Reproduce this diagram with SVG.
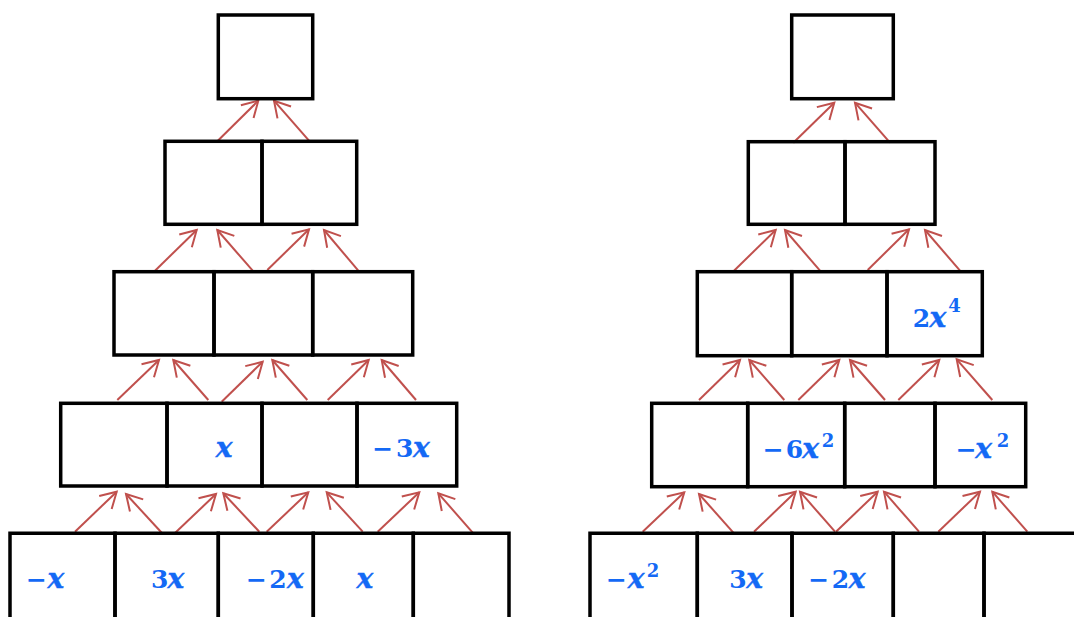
<svg xmlns="http://www.w3.org/2000/svg" width="1074" height="617" viewBox="0 0 1074 617">
<defs>
<style>
.c{fill:none;stroke:#000;stroke-width:3.5}
.a{stroke:#c0504d;stroke-width:2;fill:none;marker-end:url(#ah)}
.t{font-family:"DejaVu Serif",serif;font-weight:bold;font-size:25px;fill:#1469f5}
.v{font-style:italic;font-size:28px;stroke:#1469f5;stroke-width:0.4}
.s{font-size:18px}
</style>
<marker id="ah" markerUnits="userSpaceOnUse" markerWidth="24" markerHeight="24" viewBox="-20 -12 24 24" refX="0" refY="0" orient="auto">
<path d="M-15.6,-9 L0,0 L-15.6,9" fill="none" stroke="#c0504d" stroke-width="2"/>
</marker>
</defs>
<rect width="1074" height="617" fill="#fff"/>

<g id="connectors">
<line class="a" x1="75" y1="531.7" x2="116.7" y2="491.7"/>
<line class="a" x1="161.7" y1="532.7" x2="126" y2="494"/>
<line class="a" x1="175" y1="533" x2="216" y2="494"/>
<line class="a" x1="259.3" y1="531.7" x2="223.3" y2="493.3"/>
<line class="a" x1="266.7" y1="531.7" x2="308.3" y2="492.3"/>
<line class="a" x1="362.7" y1="531.7" x2="326.7" y2="492.3"/>
<line class="a" x1="377.7" y1="531.7" x2="419.3" y2="492.3"/>
<line class="a" x1="472.7" y1="532.7" x2="438.3" y2="493.3"/>
<line class="a" x1="117.3" y1="400" x2="159" y2="360"/>
<line class="a" x1="208.3" y1="400" x2="173.3" y2="360"/>
<line class="a" x1="221.7" y1="401.7" x2="262.7" y2="361.7"/>
<line class="a" x1="307.3" y1="400" x2="272.3" y2="360"/>
<line class="a" x1="327.7" y1="400" x2="368.7" y2="360"/>
<line class="a" x1="416" y1="400" x2="381.7" y2="360"/>
<line class="a" x1="155" y1="270.7" x2="196.7" y2="230"/>
<line class="a" x1="252.7" y1="270.7" x2="217.3" y2="230"/>
<line class="a" x1="267.3" y1="270" x2="309" y2="229.3"/>
<line class="a" x1="358.3" y1="270.7" x2="324" y2="230"/>
<line class="a" x1="217.3" y1="141.3" x2="258.3" y2="100.7"/>
<line class="a" x1="309" y1="140.7" x2="274" y2="100.7"/>

<line class="a" x1="642.7" y1="531.7" x2="684.3" y2="492.3"/>
<line class="a" x1="734" y1="533.3" x2="699" y2="494"/>
<line class="a" x1="754" y1="531.7" x2="795.7" y2="491.7"/>
<line class="a" x1="835" y1="531.7" x2="800" y2="491.7"/>
<line class="a" x1="836" y1="531.7" x2="877.7" y2="491.7"/>
<line class="a" x1="919" y1="531.7" x2="884" y2="491.7"/>
<line class="a" x1="938.3" y1="531.7" x2="980" y2="491.7"/>
<line class="a" x1="1027.3" y1="531.7" x2="992.3" y2="491.7"/>
<line class="a" x1="699" y1="400" x2="740" y2="360"/>
<line class="a" x1="784.3" y1="400" x2="749.3" y2="360"/>
<line class="a" x1="798.3" y1="400" x2="839.3" y2="360"/>
<line class="a" x1="885" y1="400" x2="850" y2="360"/>
<line class="a" x1="898.3" y1="400" x2="939.3" y2="360"/>
<line class="a" x1="992.3" y1="400" x2="956.7" y2="359.3"/>
<line class="a" x1="734" y1="270.7" x2="775.7" y2="230"/>
<line class="a" x1="820" y1="270.7" x2="785" y2="230"/>
<line class="a" x1="867.7" y1="270" x2="909" y2="229.3"/>
<line class="a" x1="960" y1="270.7" x2="925" y2="230"/>
<line class="a" x1="793.3" y1="142.7" x2="834.3" y2="102.7"/>
<line class="a" x1="890" y1="142.7" x2="855" y2="102.7"/>
</g>

<!-- Left pyramid -->
<g id="L1-1"><rect class="c" x="218.3" y="15" width="94.4" height="83.7"/></g>
<g id="L2-1"><rect class="c" x="165" y="141.3" width="97" height="83"/></g>
<g id="L2-2"><rect class="c" x="262" y="141.3" width="94.7" height="83"/></g>
<g id="L3-1"><rect class="c" x="114" y="271.7" width="100" height="83.3"/></g>
<g id="L3-2"><rect class="c" x="214" y="271.7" width="98.7" height="83.3"/></g>
<g id="L3-3"><rect class="c" x="312.7" y="271.7" width="100" height="83.3"/></g>
<g id="L4-1"><rect class="c" x="60.7" y="403.3" width="106.3" height="82.7"/></g>
<g id="L4-2"><rect class="c" x="167" y="403.3" width="95" height="82.7"/>
<text class="t" y="457"><tspan class="v" x="215.7">x</tspan></text></g>
<g id="L4-3"><rect class="c" x="262" y="403.3" width="95" height="82.7"/></g>
<g id="L4-4"><rect class="c" x="357" y="403.3" width="99.7" height="82.7"/>
<text class="t" y="457"><tspan x="372.3">−</tspan><tspan x="396">3</tspan><tspan class="v" x="413">x</tspan></text></g>
<g id="L5-1"><path class="c" d="M10,620 V533.3 H115 V620"/>
<text class="t" y="588"><tspan x="26">−</tspan><tspan class="v" x="47.5">x</tspan></text></g>
<g id="L5-2"><path class="c" d="M115,620 V533.3 H218.3 V620"/>
<text class="t" y="588"><tspan x="151">3</tspan><tspan class="v" x="167.5">x</tspan></text></g>
<g id="L5-3"><path class="c" d="M218.3,620 V533.3 H313.3 V620"/>
<text class="t" y="588"><tspan x="246">−</tspan><tspan x="269.3">2</tspan><tspan class="v" x="287">x</tspan></text></g>
<g id="L5-4"><path class="c" d="M313.3,620 V533.3 H413.3 V620"/>
<text class="t" y="588"><tspan class="v" x="356.5">x</tspan></text></g>
<g id="L5-5"><path class="c" d="M413.3,620 V533.3 H509 V620"/></g>

<!-- Right pyramid -->
<g id="R1-1"><rect class="c" x="791.7" y="15" width="101.6" height="83.7"/></g>
<g id="R2-1"><rect class="c" x="748.3" y="141.7" width="96.7" height="82.6"/></g>
<g id="R2-2"><rect class="c" x="845" y="141.7" width="90" height="82.6"/></g>
<g id="R3-1"><rect class="c" x="697.3" y="271.7" width="94.4" height="84"/></g>
<g id="R3-2"><rect class="c" x="791.7" y="271.7" width="95.3" height="84"/></g>
<g id="R3-3"><rect class="c" x="887" y="271.7" width="95.3" height="84"/>
<text class="t" y="326.5"><tspan x="912.7">2</tspan><tspan class="v" x="929.5">x</tspan><tspan class="s" x="948.3" y="311.7">4</tspan></text></g>
<g id="R4-1"><rect class="c" x="651.7" y="403.3" width="96" height="83.4"/></g>
<g id="R4-2"><rect class="c" x="747.7" y="403.3" width="97" height="83.4"/>
<text class="t" y="458"><tspan x="762.7">−</tspan><tspan x="785.7">6</tspan><tspan class="v" x="802.2">x</tspan><tspan class="s" x="821.7" y="447">2</tspan></text></g>
<g id="R4-3"><rect class="c" x="844.7" y="403.3" width="90.3" height="83.4"/></g>
<g id="R4-4"><rect class="c" x="935" y="403.3" width="90.7" height="83.4"/>
<text class="t" y="458"><tspan x="955.7">−</tspan><tspan class="v" x="975.2">x</tspan><tspan class="s" x="996.7" y="447">2</tspan></text></g>
<g id="R5-1"><path class="c" d="M590,620 V533.3 H697.3 V620"/>
<text class="t" y="588"><tspan x="606">−</tspan><tspan class="v" x="627.8">x</tspan><tspan class="s" x="646.7" y="577">2</tspan></text></g>
<g id="R5-2"><path class="c" d="M697.3,620 V533.3 H792 V620"/>
<text class="t" y="588"><tspan x="729.3">3</tspan><tspan class="v" x="746.2">x</tspan></text></g>
<g id="R5-3"><path class="c" d="M792,620 V533.3 H893.3 V620"/>
<text class="t" y="588"><tspan x="808.3">−</tspan><tspan x="831.7">2</tspan><tspan class="v" x="848.8">x</tspan></text></g>
<g id="R5-4"><path class="c" d="M893.3,620 V533.3 H984 V620"/></g>
<g id="R5-5"><path class="c" d="M984,620 V533.3 H1076"/></g>
</svg>
